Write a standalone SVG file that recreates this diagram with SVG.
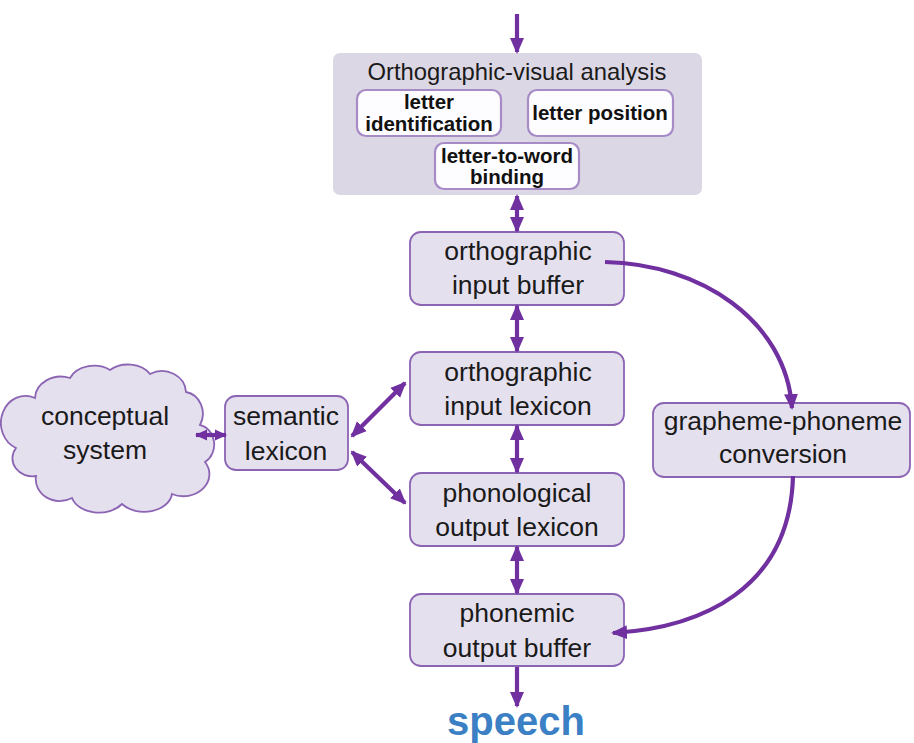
<svg xmlns="http://www.w3.org/2000/svg" width="914" height="743" viewBox="0 0 914 743">
<style>
.box{fill:#e5e0ee;stroke:#8c64b4;stroke-width:1.8}
.inner{fill:#fdfcfe;stroke:#a68bc6;stroke-width:2.2}
.t{font-family:"Liberation Sans",Arial,sans-serif;font-size:26.5px;fill:#1a1a1a;text-anchor:middle}
.title{font-size:23.8px}
.b{font-family:"Liberation Sans",Arial,sans-serif;font-size:20.5px;font-weight:bold;fill:#111;text-anchor:middle}
.c{fill:none;stroke:#7030a0;stroke-width:4.2}
</style>
<defs>
<marker id="ah" markerUnits="userSpaceOnUse" markerWidth="16" markerHeight="16" viewBox="0 0 16 16" refX="14" refY="8" orient="auto-start-reverse">
<path d="M0,1 L16,8 L0,15 Z" fill="#7030a0"/>
</marker>
<marker id="ahs" markerUnits="userSpaceOnUse" markerWidth="12" markerHeight="12" viewBox="0 0 12 12" refX="11" refY="6" orient="auto-start-reverse">
<path d="M0,0.5 L12,6 L0,11.5 Z" fill="#7030a0"/>
</marker>
</defs>
<rect width="914" height="743" fill="#ffffff"/>

<g id="ortho-visual">
<rect x="333" y="53" width="369" height="142" rx="7" fill="#dcd7e4"/>
<text class="t title" x="517" y="80">Orthographic-visual analysis</text>
</g>
<g id="letter-identification">
<rect class="inner" x="357" y="90" width="144" height="46" rx="9"/>
<text class="b" x="429" y="109">letter</text>
<text class="b" x="429" y="131">identification</text>
</g>
<g id="letter-position">
<rect class="inner" x="528" y="90" width="145" height="46" rx="9"/>
<text class="b" x="600" y="120">letter position</text>
</g>
<g id="letter-to-word">
<rect class="inner" x="435" y="143" width="144" height="46" rx="9"/>
<text class="b" x="507" y="163">letter-to-word</text>
<text class="b" x="507" y="184">binding</text>
</g>

<g id="orth-input-buffer">
<rect class="box" x="410" y="232" width="214" height="73" rx="11"/>
<text class="t" x="518" y="260">orthographic</text>
<text class="t" x="518" y="294">input buffer</text>
</g>
<g id="orth-input-lexicon">
<rect class="box" x="410" y="352" width="214" height="73" rx="11"/>
<text class="t" x="518" y="381">orthographic</text>
<text class="t" x="518" y="415">input lexicon</text>
</g>
<g id="phon-output-lexicon">
<rect class="box" x="410" y="473" width="214" height="73" rx="11"/>
<text class="t" x="517" y="502">phonological</text>
<text class="t" x="517" y="536">output lexicon</text>
</g>
<g id="phonemic-output-buffer">
<rect class="box" x="410" y="594" width="214" height="72" rx="11"/>
<text class="t" x="517" y="622">phonemic</text>
<text class="t" x="517" y="657">output buffer</text>
</g>
<g id="semantic-lexicon">
<rect class="box" x="225" y="396" width="123" height="74" rx="11"/>
<text class="t" x="286" y="425">semantic</text>
<text class="t" x="286" y="460">lexicon</text>
</g>
<g id="grapheme-phoneme">
<rect class="box" x="653" y="403" width="257" height="74" rx="11"/>
<text class="t" x="783" y="430">grapheme-phoneme</text>
<text class="t" x="783" y="463">conversion</text>
</g>
<g id="conceptual-system">
<path class="box" d="M35,398 A26 22 0 0 1 70,378 A26 20 0 0 1 110,370 A26 20 0 0 1 150,374 A24 22 0 0 1 186,392 A20 22 0 0 1 200,425 A18 20 0 0 1 205,462 A26 22 0 0 1 172,494 A28 20 0 0 1 122,504 A28 20 0 0 1 72,498 A24 22 0 0 1 36,476 A20 18 0 0 1 16,448 A20 22 0 0 1 35,398 Z"/>
<text class="t" x="105" y="425">conceptual</text>
<text class="t" x="105" y="459">system</text>
</g>
<g id="speech">
<text x="516" y="735" font-family="'Liberation Sans',Arial,sans-serif" font-size="40" font-weight="bold" fill="#3b7fc4" text-anchor="middle">speech</text>
</g>

<g id="connectors">
<line class="c" x1="517" y1="14" x2="517" y2="52" marker-end="url(#ah)"/>
<line class="c" x1="517" y1="196" x2="517" y2="231" marker-start="url(#ah)" marker-end="url(#ah)"/>
<line class="c" x1="517" y1="306" x2="517" y2="351" marker-start="url(#ah)" marker-end="url(#ah)"/>
<line class="c" x1="517" y1="426" x2="517" y2="472" marker-start="url(#ah)" marker-end="url(#ah)"/>
<line class="c" x1="517" y1="547" x2="517" y2="593" marker-start="url(#ah)" marker-end="url(#ah)"/>
<line class="c" x1="517" y1="667" x2="517" y2="706" marker-end="url(#ah)"/>
<line class="c" x1="196" y1="435" x2="226" y2="435" marker-start="url(#ahs)" marker-end="url(#ahs)"/>
<line class="c" x1="352" y1="436" x2="405" y2="383" marker-start="url(#ah)" marker-end="url(#ah)"/>
<line class="c" x1="352" y1="452" x2="405" y2="503" marker-start="url(#ah)" marker-end="url(#ah)"/>
<path class="c" d="M605,262 C700,264 786,320 792,408" marker-end="url(#ah)"/>
<path class="c" d="M793,476 C790,590 700,628 613,633" marker-end="url(#ah)"/>
</g>
</svg>
